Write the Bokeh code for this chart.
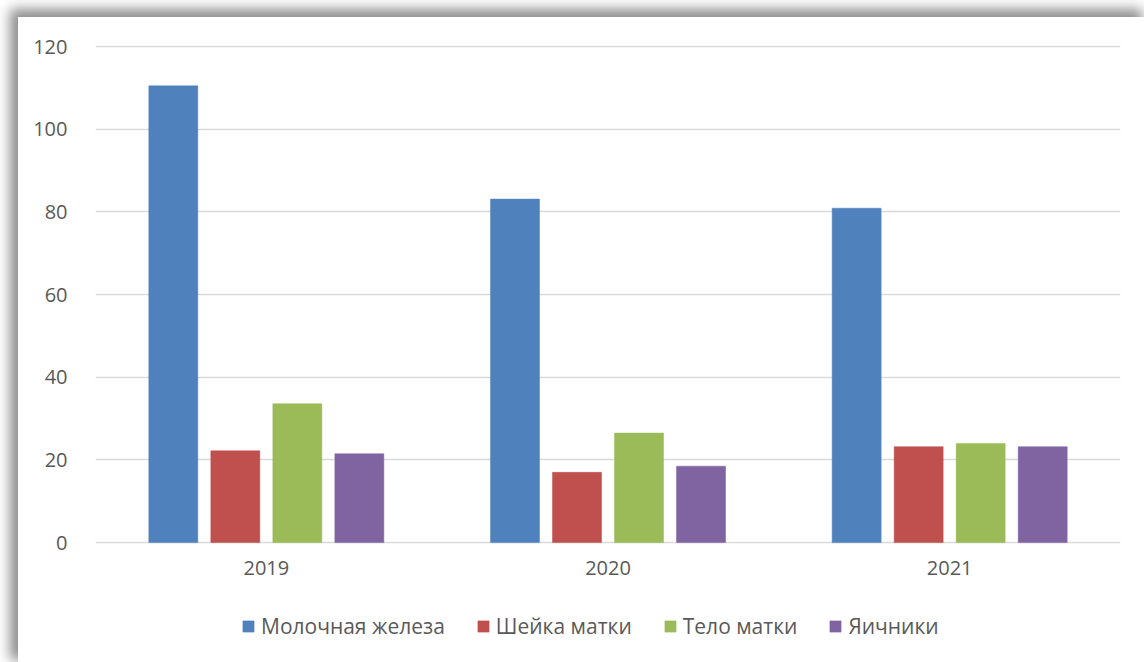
from bokeh.plotting import figure
from bokeh.models import ColumnDataSource, FactorRange, Range1d, FixedTicker, Legend, LegendItem
from bokeh.core.properties import value
from bokeh.transform import dodge
from bokeh.embed import file_html
from bokeh.resources import INLINE

years = ["2019", "2020", "2021"]
series_names = ["Молочная железа", "Шейка матки", "Тело матки", "Яичники"]
breast = [110.5, 83.1, 80.9]
cervix = [22.2, 17.0, 23.2]
uterus = [33.6, 26.5, 24.0]
ovaries = [21.5, 18.5, 23.2]
colors = ["#4F81BD", "#C0504D", "#9BBB59", "#8064A2"]
y_ticks = [0, 20, 40, 60, 80, 100, 120]

source = ColumnDataSource(dict(years=years, breast=breast, cervix=cervix,
                               uterus=uterus, ovaries=ovaries, base=[0] * len(years)))

FONT = "Open Sans"
TXT = "#595959"

# frame runs to the bottom edge so the legend sits inside it
p = figure(x_range=FactorRange(*years, range_padding=0), y_range=Range1d(-29.0, 120.5),
           width=1126, height=645, output_backend="svg", toolbar_location=None,
           min_border_left=77, min_border_right=24, min_border_top=27, min_border_bottom=0)
p.margin = (17, 0, 0, 18)
p.styles = {"box-shadow": "-5px -5px 12px 3px rgba(0,0,0,0.45)"}
p.outline_line_color = None
p.background_fill_color = "white"
p.border_fill_color = "white"

step = 0.1815
width = 0.1434
offsets = [-1.5 * step, -0.5 * step, 0.5 * step, 1.5 * step]
fields = ["breast", "cervix", "uterus", "ovaries"]
renderers = []
for f, off, c in zip(fields, offsets, colors):
    r = p.vbar(x=dodge("years", off, range=p.x_range), top=f, bottom=0, width=width, source=source,
               fill_color=c, line_color=c, line_width=0.5)
    renderers.append(r)

# category labels under the zero line
p.text(x="years", y="base", text="years", source=source, y_offset=18,
       text_align="center", text_baseline="top", text_font=value(FONT),
       text_font_size="20px", text_color=TXT)

p.xaxis.visible = False
p.xgrid.grid_line_color = None
p.ygrid.grid_line_color = "#d9d9d9"
p.ygrid.grid_line_width = 1.5
p.yaxis.ticker = FixedTicker(ticks=y_ticks)
p.yaxis.major_tick_line_color = None
p.yaxis.minor_tick_line_color = None
p.yaxis.major_label_text_font = FONT
p.yaxis.major_label_text_font_size = "20px"
p.yaxis.major_label_text_color = TXT
p.yaxis.axis_line_color = None
p.yaxis.major_label_standoff = 22

legend = Legend(items=[LegendItem(label=n, renderers=[r]) for n, r in zip(series_names, renderers)],
                orientation="horizontal", location=(146, 22),
                label_text_font=FONT, label_text_font_size="21px", label_text_color=TXT,
                glyph_width=14, glyph_height=14, label_standoff=6, spacing=31,
                padding=0, margin=0, border_line_color=None, background_fill_alpha=0)
p.add_layout(legend, "center")

open("out.html", "w").write(file_html(p, INLINE))
